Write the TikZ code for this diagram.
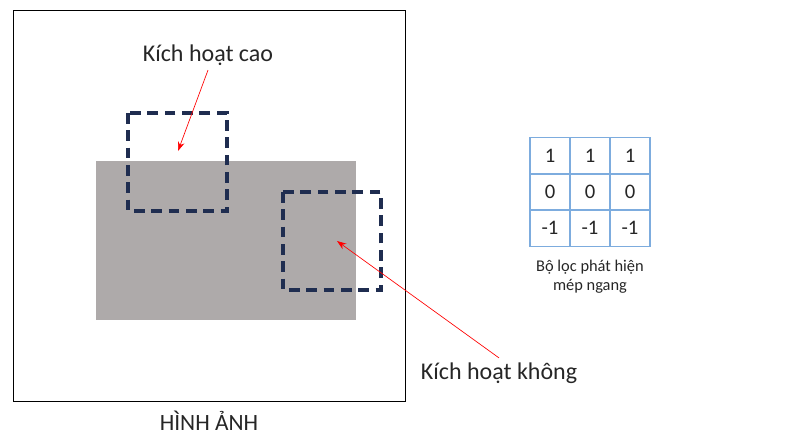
\documentclass[tikz,border=0pt]{standalone}
\usepackage{fontspec}
\setmainfont{Carlito}
\usepackage{tikz}
\usetikzlibrary{positioning,arrows.meta}
\definecolor{greyfill}{RGB}{174,170,170}
\definecolor{navy}{RGB}{31,45,80}
\definecolor{cellblue}{RGB}{125,172,222}

\begin{document}
\begin{tikzpicture}[
  x=0.75pt, y=-0.75pt,
  frame/.style={draw=black, line width=0.6pt},
  window/.style={draw=navy, line width=2.3pt, dash pattern=on 8pt off 5pt},
  cell/.style={draw=cellblue, line width=1pt, minimum width=30pt, minimum height=27.5pt, inner sep=0pt, font=\fontsize{15.5}{18}\selectfont, text=black!85},
  lbl/.style={font=\fontsize{18}{21}\selectfont, text=black!85},
  arrow/.style={-{Stealth[length=7pt,width=5pt]}, red, line width=0.5pt},
]
\useasboundingbox (0,0) rectangle (793,437);

% Image
\draw[frame] (13,10) rectangle (405,401);
\fill[greyfill] (96,161) rectangle (356,320);
\node[lbl, font=\fontsize{17.5}{21}\selectfont] (img) at (209,421) {HÌNH ẢNH};

% Sliding windows
\draw[window] (128,113) rectangle (227,211);
\draw[window] (283,192) rectangle (381,290);

% Labels and arrows
\node[lbl] (cao) at (208,55) {Kích hoạt cao};
\coordinate (tipcao) at (178,151);
\draw[arrow] (cao.south) -- (tipcao);

\node[lbl] (khong) at (499,373) {Kích hoạt không};
\coordinate (tipkhong) at (337,241);
\draw[arrow] (khong.north) -- (tipkhong);

% Filter
\foreach \row/\y/\v in {1/155.5/1, 2/191.5/0, 3/228/-1} {
  \foreach \col/\x in {1/550, 2/590, 3/630} {
    \node[cell] (c-\row-\col) at (\x,\y) {\v};
  }
}
\node[font=\fontsize{12.3}{14.5}\selectfont, align=center, text=black!85, below=6pt of c-3-2] (cap) {Bộ lọc phát hiện\\mép ngang};

\end{tikzpicture}
\end{document}
